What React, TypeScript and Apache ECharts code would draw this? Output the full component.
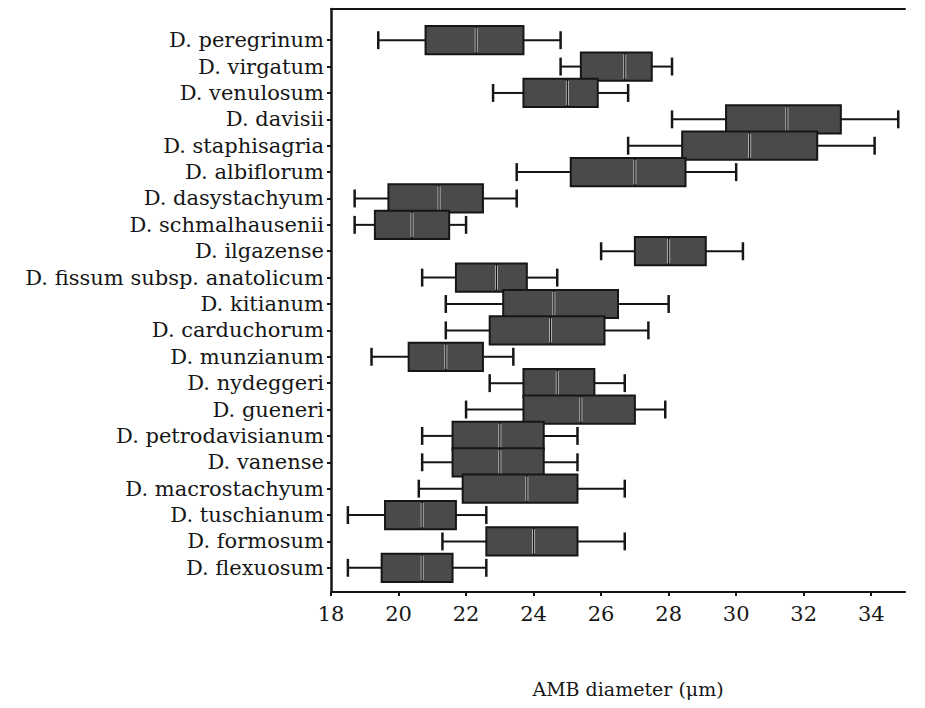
import React, { useEffect, useRef } from "react";
import * as echarts from "echarts";

const categories = [
  "D. peregrinum",
  "D. virgatum",
  "D. venulosum",
  "D. davisii",
  "D. staphisagria",
  "D. albiflorum",
  "D. dasystachyum",
  "D. schmalhausenii",
  "D. ilgazense",
  "D. fissum subsp. anatolicum",
  "D. kitianum",
  "D. carduchorum",
  "D. munzianum",
  "D. nydeggeri",
  "D. gueneri",
  "D. petrodavisianum",
  "D. vanense",
  "D. macrostachyum",
  "D. tuschianum",
  "D. formosum",
  "D. flexuosum",
];

const whiskerLow = [19.4, 24.8, 22.8, 28.1, 26.8, 23.5, 18.7, 18.7, 26.0, 20.7, 21.4, 21.4, 19.2, 22.7, 22.0, 20.7, 20.7, 20.6, 18.5, 21.3, 18.5];
const quartile1 = [20.8, 25.4, 23.7, 29.7, 28.4, 25.1, 19.7, 19.3, 27.0, 21.7, 23.1, 22.7, 20.3, 23.7, 23.7, 21.6, 21.6, 21.9, 19.6, 22.6, 19.5];
const medians = [22.3, 26.7, 25.0, 31.5, 30.4, 27.0, 21.2, 20.4, 28.0, 22.9, 24.6, 24.5, 21.4, 24.7, 25.4, 23.0, 23.0, 23.8, 20.7, 24.0, 20.7];
const quartile3 = [23.7, 27.5, 25.9, 33.1, 32.4, 28.5, 22.5, 21.5, 29.1, 23.8, 26.5, 26.1, 22.5, 25.8, 27.0, 24.3, 24.3, 25.3, 21.7, 25.3, 21.6];
const whiskerHigh = [24.8, 28.1, 26.8, 34.8, 34.1, 30.0, 23.5, 22.0, 30.2, 24.7, 28.0, 27.4, 23.4, 26.7, 27.9, 25.3, 25.3, 26.7, 22.6, 26.7, 22.6];

const xTickLabels = ["18", "20", "22", "24", "26", "28", "30", "32", "34"];
const xAxisTitle = "AMB diameter (μm)";

const FONT = "DejaVu Serif";
const INK = "#161616";

export default function App() {
  const ref = useRef<HTMLDivElement>(null);

  useEffect(() => {
    if (!ref.current) return;
    const chart = echarts.init(ref.current, null, { renderer: "svg" });

    const boxData = categories.map((_, i) => [
      i,
      whiskerLow[i],
      quartile1[i],
      medians[i],
      quartile3[i],
      whiskerHigh[i],
    ]);

    const renderItem = (params: any, api: any) => {
      const idx = api.value(0);
      const pLow = api.coord([api.value(1), idx]);
      const pQ1 = api.coord([api.value(2), idx]);
      const pMed = api.coord([api.value(3), idx]);
      const pQ3 = api.coord([api.value(4), idx]);
      const pHigh = api.coord([api.value(5), idx]);
      const band = api.size([0, 1])[1];
      const boxH = band * 1.07;
      const capH = band * 0.68;
      const cy = pMed[1];
      const lineStyle = { stroke: INK, lineWidth: 2 };
      return {
        type: "group",
        children: [
          { type: "line", shape: { x1: pLow[0], y1: cy, x2: pQ1[0], y2: cy }, style: lineStyle },
          { type: "line", shape: { x1: pQ3[0], y1: cy, x2: pHigh[0], y2: cy }, style: lineStyle },
          { type: "line", shape: { x1: pLow[0], y1: cy - capH / 2, x2: pLow[0], y2: cy + capH / 2 }, style: { stroke: INK, lineWidth: 2.5 } },
          { type: "line", shape: { x1: pHigh[0], y1: cy - capH / 2, x2: pHigh[0], y2: cy + capH / 2 }, style: { stroke: INK, lineWidth: 2.5 } },
          {
            type: "rect",
            shape: { x: pQ1[0], y: cy - boxH / 2, width: pQ3[0] - pQ1[0], height: boxH },
            style: { fill: "#4a4a4a", stroke: INK, lineWidth: 2 },
          },
          {
            type: "line",
            shape: { x1: pMed[0], y1: cy - boxH / 2 + 2, x2: pMed[0], y2: cy + boxH / 2 - 2 },
            style: { stroke: "#bdbdbd", lineWidth: 3 },
          },
          {
            type: "line",
            shape: { x1: pMed[0], y1: cy - boxH / 2, x2: pMed[0], y2: cy + boxH / 2 },
            style: { stroke: INK, lineWidth: 1.2 },
          },
        ],
      };
    };

    const option: any = {
      animation: false,
      backgroundColor: "#ffffff",
      grid: [
        { left: 331, width: 574, top: 9, height: 583, show: false },
        { left: 331, width: 574, top: 27, height: 554, show: false },
      ],
      xAxis: [
        {
          gridIndex: 0,
          type: "value",
          min: 18,
          max: 35,
          interval: 2,
          position: "bottom",
          axisLine: { show: true, onZero: false, lineStyle: { color: INK, width: 2 } },
          axisTick: { show: true, length: 4, lineStyle: { color: INK, width: 2 } },
          splitLine: { show: false },
          axisLabel: {
            show: true,
            showMaxLabel: false,
            margin: 11,
            fontFamily: FONT,
            fontSize: 21,
            color: INK,
            formatter: (v: number) => {
              const s = String(v);
              return xTickLabels.indexOf(s) >= 0 ? s : "";
            },
          },
          name: xAxisTitle,
          nameLocation: "middle",
          nameGap: 87,
          nameTextStyle: { fontFamily: FONT, fontSize: 19, color: INK, padding: [0, 0, 0, 20] },
        },
        {
          gridIndex: 0,
          type: "value",
          min: 18,
          max: 35,
          position: "top",
          axisLine: { show: true, onZero: false, lineStyle: { color: INK, width: 2 } },
          axisTick: { show: false },
          axisLabel: { show: false },
          splitLine: { show: false },
        },
        {
          gridIndex: 1,
          type: "value",
          min: 18,
          max: 35,
          show: false,
          splitLine: { show: false },
        },
      ],
      yAxis: [
        {
          gridIndex: 0,
          type: "value",
          position: "left",
          min: 0,
          max: 1,
          axisLine: { show: true, onZero: false, lineStyle: { color: INK, width: 2.5 } },
          axisTick: { show: false },
          axisLabel: { show: false },
          splitLine: { show: false },
        },
        {
          gridIndex: 1,
          type: "category",
          position: "left",
          inverse: true,
          data: categories,
          axisLine: { show: false },
          axisTick: { show: true, interval: 0, alignWithLabel: true, length: 4, lineStyle: { color: INK, width: 2 } },
          axisLabel: { interval: 0, fontFamily: FONT, fontSize: 21, color: INK, margin: 7 },
          splitLine: { show: false },
        },
      ],
      series: [
        {
          type: "custom",
          xAxisIndex: 2,
          yAxisIndex: 1,
          renderItem,
          encode: { x: [1, 2, 3, 4, 5], y: 0 },
          data: boxData,
          clip: false,
        },
      ],
    };

    chart.setOption(option);
    return () => chart.dispose();
  }, []);

  return (
    <div
      ref={ref}
      style={{ position: "fixed", left: 0, top: 0, width: 925, height: 708, background: "#fff" }}
    />
  );
}
